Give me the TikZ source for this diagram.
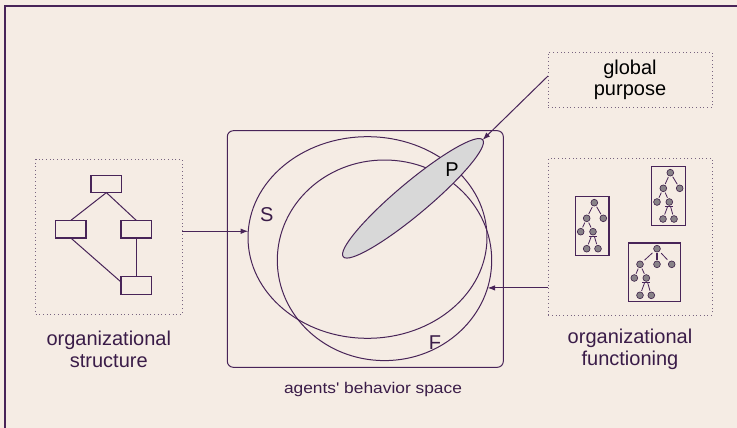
\documentclass[tikz,border=0pt]{standalone}
\usepackage{fontspec}
\setmainfont{Liberation Sans}
\newfontfamily\widesans[FakeStretch=1.12]{Liberation Sans}
\usetikzlibrary{shapes.geometric,arrows.meta}
\definecolor{paper}{RGB}{245,236,228}
\definecolor{ink}{RGB}{72,36,88}
\definecolor{inktext}{RGB}{58,28,72}
\definecolor{dots}{RGB}{120,100,128}
\definecolor{pfill}{RGB}{216,216,216}
\definecolor{leaf}{RGB}{136,130,136}
\tikzset{
  dotbox/.style={draw=dots, line width=0.9pt, dash pattern=on 0.9pt off 2.8pt,
    rectangle, inner sep=0pt, outer sep=0pt},
  orgbox/.style={draw=ink, line width=1.2pt, rectangle, inner sep=0pt, outer sep=0pt,
    minimum width=30.7pt, minimum height=17.4pt},
  treebox/.style={draw=ink, line width=1.4pt, rectangle, inner sep=0pt, outer sep=0pt},
  tn/.style={circle, draw=ink!80!black, line width=0.6pt, fill=leaf,
    minimum size=6.8pt, inner sep=0pt},
  tedge/.style={draw=ink, line width=0.8pt, shorten <=1pt, shorten >=1pt},
  link/.style={draw=ink, line width=1pt},
  arr/.style={draw=ink, line width=1pt, -{Latex[length=7.5pt,width=5.5pt]}},
  region/.style={ellipse, draw=ink, line width=1pt, inner sep=0pt, outer sep=0pt},
  bigtext/.style={font=\fontsize{20}{21.5}\selectfont, text=inktext, align=center, inner sep=0pt},
}
\begin{document}
\begin{tikzpicture}[x=1pt, y=-1pt]
\fill[paper] (0,0) rectangle (737,428);
\useasboundingbox (0,0) rectangle (737,428);

% outer frame
\draw[ink, line width=1.3pt] (5,428) -- (5,6) -- (737,6);

% behaviour space
\node[draw=ink, line width=1pt, rounded corners=6pt, rectangle, inner sep=0pt,
  minimum width=276pt, minimum height=236.6pt] (space) at (365.3,249) {};
\node[region, minimum width=239pt, minimum height=201.6pt] (S) at (367.5,237.5) {};
\node[region, minimum width=214.4pt, minimum height=200.6pt] (F) at (384.5,260.3) {};
\node[region, fill=pfill, rotate=40, minimum width=182pt, minimum height=32pt] (P) at (413,198.3) {};
\node[bigtext, text=black] (Plab) at (452,170) {P};
\node[bigtext] (Slab) at (266.7,215) {S};
\node[bigtext] (Flab) at (435,342.5) {F};
\node[font=\widesans\fontsize{15.5}{18}\selectfont, text=inktext] (spacelab) at (373,389) {agents' behavior space};

% organizational structure
\node[dotbox, minimum width=146.4pt, minimum height=155pt] (lbox) at (108.8,236.5) {};
\node[orgbox] (s1) at (106.4,183.9) {};
\node[orgbox] (s2) at (70.7,229.2) {};
\node[orgbox] (s3) at (136.4,229.2) {};
\node[orgbox] (s4) at (136.4,285.5) {};
\draw[link] (s1.south) -- (s2.north);
\draw[link] (s1.south) -- (s3.north);
\draw[link] (s2.south) -- ([yshift=3.5pt]s4.west);
\draw[link] (s3.south) -- (s4.north);
\node[bigtext] (lstruct) at (108.8,349.5) {organizational\\structure};

% organizational functioning
\node[dotbox, minimum width=163.7pt, minimum height=156.7pt] (rbox) at (630.15,236.65) {};
\node[bigtext] (lfunc) at (630,349.5) {organizational\\functioning};

% first tree
\node[treebox, minimum width=33.7pt, minimum height=59pt] (t1) at (592.15,225.8) {};
\node[tn] (t1a) at (594.3,202.7) {};
\node[tn] (t1b) at (586.7,218.3) {};
\node[tn] (t1c) at (603.3,218.3) {};
\node[tn] (t1d) at (580.7,231.7) {};
\node[tn] (t1e) at (593,231.7) {};
\node[tn] (t1f) at (586.7,248.7) {};
\node[tn] (t1g) at (598,248.7) {};
\draw[tedge] (t1a) -- (t1b);
\draw[tedge] (t1a) -- (t1c);
\draw[tedge] (t1b) -- (t1d);
\draw[tedge] (t1b) -- (t1e);
\draw[tedge] (t1e) -- (t1f);
\draw[tedge] (t1e) -- (t1g);
\draw[ink, line width=0.9pt] ([xshift=-4pt,yshift=-4.7pt]t1e.center) -- ([xshift=4pt,yshift=-4.7pt]t1e.center);

% second tree
\node[treebox, minimum width=34pt, minimum height=58.6pt] (t2) at (668.3,196) {};
\node[tn] (t2a) at (670.3,172.7) {};
\node[tn] (t2b) at (663.3,188.3) {};
\node[tn] (t2c) at (679.7,188.3) {};
\node[tn] (t2d) at (657,202) {};
\node[tn] (t2e) at (669.3,202) {};
\node[tn] (t2f) at (663,219) {};
\node[tn] (t2g) at (674,219) {};
\draw[tedge] (t2a) -- (t2b);
\draw[tedge] (t2a) -- (t2c);
\draw[tedge] (t2b) -- (t2d);
\draw[tedge] (t2b) -- (t2e);
\draw[tedge] (t2e) -- (t2f);
\draw[tedge] (t2e) -- (t2g);
\draw[ink, line width=0.9pt] ([xshift=-4pt,yshift=-4.7pt]t2e.center) -- ([xshift=4pt,yshift=-4.7pt]t2e.center);

% third tree
\node[treebox, minimum width=52.4pt, minimum height=58.7pt] (t3) at (654.5,272.35) {};
\node[tn] (t3a) at (657,248.7) {};
\node[tn] (t3b) at (640,264.3) {};
\node[tn] (t3m) at (657,264.3) {};
\node[tn] (t3c) at (671.7,264.3) {};
\node[tn] (t3d) at (634.3,278) {};
\node[tn] (t3e) at (646.3,278) {};
\node[tn] (t3f) at (640,295.3) {};
\node[tn] (t3g) at (651.3,295.3) {};
\draw[tedge, shorten <=2.5pt, shorten >=2.5pt] (t3a) -- (t3b);
\draw[tedge, line width=1.2pt] (t3a) -- (t3m);
\draw[tedge, shorten <=2.5pt, shorten >=2.5pt] (t3a) -- (t3c);
\draw[tedge] (t3b) -- (t3d);
\draw[tedge] (t3b) -- (t3e);
\draw[tedge] (t3e) -- (t3f);
\draw[tedge] (t3e) -- (t3g);
\draw[ink, line width=0.9pt] ([xshift=-4pt,yshift=-4.7pt]t3e.center) -- ([xshift=4pt,yshift=-4.7pt]t3e.center);

% global purpose
\node[dotbox, minimum width=164pt, minimum height=55.4pt] (gp) at (630,80) {};
\node[bigtext, text=black] (gplab) at (gp.center) {global\\purpose};

% connectors
\draw[arr] (lbox.east |- S.177.4) -- (S.177.4);
\draw[arr] (rbox.west |- F.-15.1) -- (F.-15.1);
\draw[arr] ([yshift=4pt]gp.west) -- (P.east);
\end{tikzpicture}
\end{document}
